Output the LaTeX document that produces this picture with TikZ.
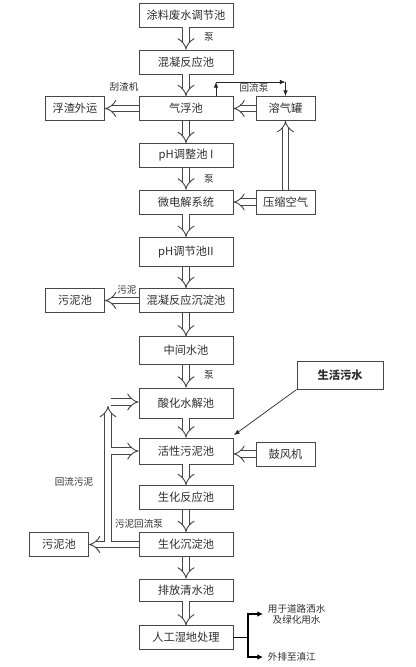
\documentclass[tikz,border=0pt]{standalone}
\usepackage{fontspec}
\newfontfamily\cjk{Noto Sans CJK SC}
\usepackage{tikz}
\usetikzlibrary{arrows.meta}
\usepackage[dvipsnames]{xcolor}
\colorlet{lineclr}{black!72}
\colorlet{textclr}{black!82}

\tikzset{
	box/.style={draw=lineclr, line width=0.6pt, minimum width=2.35cm, minimum height=0.6cm, inner sep=0pt},
	sidebox/.style={box, minimum width=1.475cm},
	flow/.style={draw=lineclr, line width=0.65pt, double=white, double distance=3.7pt, -{Implies}},
	thinarrow/.style={draw=black!85, line width=0.5pt, -{Latex[length=4pt,width=3.2pt]}},
	outarrow/.style={draw=black, line width=1pt, -{Latex[length=4pt,width=4pt]}},
	lbl/.style={font=\cjk\fontsize{6.8}{8}\selectfont, text=textclr},
}

\begin{document}
\begin{tikzpicture}[x=0.025cm, y=-0.025cm, font=\cjk\fontsize{8}{9.6}\selectfont, text=textclr]
	\useasboundingbox (0,0) rectangle (416,667);
	% Main treatment column
	\node[box] (tlts) at (186,15) {涂料废水调节池};
	\node[box] (hnfy) at (186,62) {混凝反应池};
	\node[box] (qfc)  at (186,108.5) {气浮池};
	\node[box] (ph1)  at (186,155.5) {pH调整池 I};
	\node[box] (wdj)  at (186,202) {微电解系统};
	\node[box, minimum height=0.73cm] (ph2) at (186,252) {pH调节池II};
	\node[box] (hncd) at (186,300.5) {混凝反应沉淀池};
	\node[box, minimum height=0.68cm] (zjsc) at (186,350.5) {中间水池};
	\node[box, minimum height=0.75cm] (shsj) at (186,403) {酸化水解池};
	\node[box, minimum height=0.65cm] (hxwn) at (186,451) {活性污泥池};
	\node[box] (shfy) at (186,497.5) {生化反应池};
	\node[box] (shcd) at (186,544.5) {生化沉淀池};
	\node[box, minimum height=0.55cm] (pfqs) at (186,590) {排放清水池};
	\node[box, minimum height=0.58cm] (rgsd) at (186,637.5) {人工湿地处理};
	% Side boxes
	\node[sidebox] (fzwy) at (75,108.5) {浮渣外运};
	\node[sidebox] (wnc1) at (75,300.5) {污泥池};
	\node[sidebox] (wnc2) at (59,544.5) {污泥池};
	\node[sidebox] (rqg)  at (285.5,108.5) {溶气罐};
	\node[sidebox] (yskq) at (285.5,202) {压缩空气};
	\node[sidebox] (gfj)  at (285.5,454) {鼓风机};
	\node[box, minimum width=2.15cm, minimum height=0.68cm, font=\cjk\bfseries\fontsize{8}{9.6}\selectfont] (shws) at (340,375.5) {生活污水};
	% Main flow
	\foreach \a/\b in {tlts/hnfy, hnfy/qfc, qfc/ph1, ph1/wdj, wdj/ph2, ph2/hncd, hncd/zjsc,
		zjsc/shsj, shsj/hxwn, hxwn/shfy, shfy/shcd, shcd/pfqs, pfqs/rgsd}{
		\draw[flow] (\a.south) -- (\b.north);
	}
	% Side flows
	\draw[flow] (qfc.west) -- (fzwy.east);
	\draw[flow] (rqg.west) -- (qfc.east);
	\draw[flow] (yskq.north) -- (rqg.south);
	\draw[flow] (yskq.west) -- (wdj.east);
	\draw[flow] (hncd.west) -- (wnc1.east);
	\draw[flow] (gfj.west) -- (gfj.west -| hxwn.east);
	\draw[flow] (shcd.west) -- (wnc2.east);
	% Return sludge
	\coordinate (rbot) at (108,542);
	\coordinate (rtop) at (108,406);
	\coordinate (rsplit) at (110.5,402);
	\coordinate (rmid) at (110.5,451);
	\draw[flow] (rbot) -- (rtop);
	\draw[flow] (rsplit) -- (shsj.west |- rsplit);
	\draw[flow] (rmid) -- (hxwn.west);
	% Recycle pump loop
	\coordinate (rl1) at (216,82);
	\coordinate (rl2) at (285.5,82);
	\draw[thinarrow] (qfc.north -| rl1) -- (rl1);
	\draw[thinarrow] (rl1) -- (rl2);
	\draw[thinarrow] (rl2) -- (rqg.north);
	% Domestic sewage
	\draw[thinarrow] (shws.south west) -- (234,435);
	% Wetland outlets
	\node[anchor=west, align=center, lbl] (reuse) at (263,614) {用于道路洒水\\及绿化用水};
	\node[anchor=west, lbl] (river) at (263,657) {外排至滇江};
	\coordinate (split) at (248,637.5);
	\draw[black, line width=1pt] (rgsd.east) -- (split);
	\draw[outarrow] (split) |- (reuse.west);
	\draw[outarrow] (split) |- (river.west);
	% Labels
	\foreach \y in {37,179,375}{
		\node[lbl] at (209,\y) {泵};
	}
	\node[lbl] at (124,87) {刮渣机};
	\node[lbl] at (254,88) {回流泵};
	\node[lbl] at (127,290) {污泥};
	\node[lbl] at (74,482) {回流污泥};
	\node[lbl] at (139,524) {污泥回流泵};
\end{tikzpicture}
\end{document}
